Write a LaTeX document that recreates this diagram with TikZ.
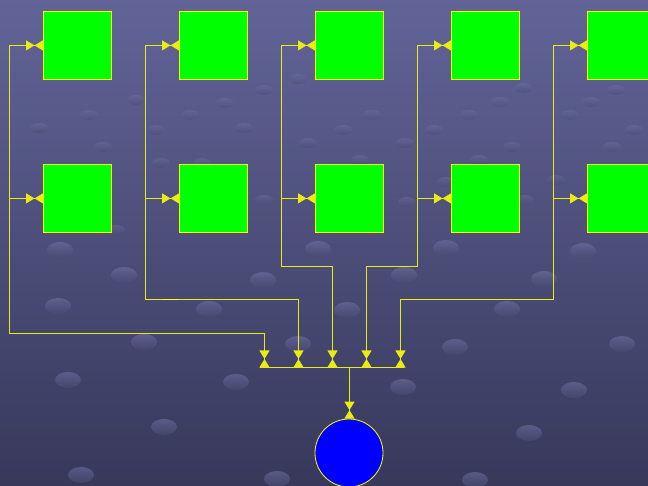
\documentclass[tikz,border=0pt]{standalone}
\usetikzlibrary{arrows.meta,calc}
\definecolor{bgA}{RGB}{98,100,152}
\definecolor{bgB}{RGB}{55,56,90}
\definecolor{dotA}{RGB}{110,112,162}
\definecolor{dotB}{RGB}{72,74,112}
\definecolor{wirecol}{RGB}{235,235,20}
\definecolor{tipcol}{RGB}{255,255,0}
\definecolor{boxgreen}{RGB}{0,255,0}
\definecolor{sinkblue}{RGB}{0,0,255}
\pgfkeys{/pgf/arrow keys/tw/.style={length=8.5pt,width=10pt}}
\tikzset{
  wire/.style={draw=wirecol,line width=1.1pt},
  endtip/.style={-{Triangle[tw] Triangle[tw,reversed]}},
  unit/.style={draw=tipcol,line width=0.8pt,fill=boxgreen,minimum width=68pt,minimum height=68pt,inner sep=0pt,anchor=north west},
  sinkstyle/.style={draw=tipcol,line width=0.8pt,fill=sinkblue,circle,minimum size=68pt,inner sep=0pt},
  bigdot/.style={top color=dotA,bottom color=dotB,opacity=0.6},
  smalldot/.style={top color=dotA,bottom color=dotB,opacity=0.45}
}
\begin{document}
\begin{tikzpicture}[x=1pt,y=-1pt]
\useasboundingbox (0,0) rectangle (648,486);
\shade[shading angle=45,top color=bgA,bottom color=bgB] (0,0) rectangle (648,486);
% background dots
\begin{scope}
\foreach \px/\py in {60/250,124/275,58/306,209/309,263/280,318/249,347/310,404/275,446/248,544/279,583/251,507/309,298/344,144/342,455/347,622/344,68/380,236/382,403/387,574/390,164/427,529/433,81/475,277/479,475/480}
  \shade[bigdot] (\px,\py) ellipse (13 and 8);
\foreach \px/\py in {39/128,89/115,136/100,103/147,156/130,190/115,225/103,244/128,264/90,298/79,343/130,372/115,405/143,434/130,469/115,500/102,523/88,512/147,570/115,612/147,634/130,591/102,616/90,308/143,202/163,161/163,360/160,479/160,556/180,407/202,525/200,264/200,116/230,446/182}
  \shade[smalldot] (\px,\py) ellipse (9 and 5);
\end{scope}
% units
\node[unit] (s1t) at (43,11) {};
\node[unit] (s2t) at (179,11) {};
\node[unit] (s3t) at (315,11) {};
\node[unit] (s4t) at (451,11) {};
\node[unit] (s5t) at (587,11) {};
\node[unit] (s1b) at (43,164) {};
\node[unit] (s2b) at (179,164) {};
\node[unit] (s3b) at (315,164) {};
\node[unit] (s4b) at (451,164) {};
\node[unit] (s5b) at (587,164) {};
\node[sinkstyle] (sink) at (349,453) {};
% corners and bus points
\coordinate (k1) at (9.5,333.5);
\coordinate (k2) at (145.5,299.5);
\coordinate (k3) at (281.5,266.5);
\coordinate (k4) at (417.5,266.5);
\coordinate (k5) at (553.5,299.5);
\coordinate (d1) at (264.5,367.5);
\coordinate (d2) at (298.5,367.5);
\coordinate (d3) at (332.5,367.5);
\coordinate (d4) at (366.5,367.5);
\coordinate (d5) at (400.5,367.5);
\coordinate (busL) at (260,367.5);
\coordinate (busR) at (404,367.5);
\coordinate (busC) at (349.5,367.5);
% bus
\draw[wire] (busL) -- (busR);
\draw[wire] (busC) -- ($(busC |- sink.north)+(0,-17)$);
\draw[wire,endtip] ($(busC |- sink.north)+(0,-17)$) -- (busC |- sink.north);
% column connectors
\foreach \i in {1,...,5}{
  \draw[wire] (d\i) |- (k\i) |- (s\i t.west);
  \draw[wire,endtip] ($(d\i)+(0,-17)$) -- (d\i);
  \draw[wire,endtip] ($(s\i t.west)+(-17,0)$) -- (s\i t.west);
  \draw[wire,endtip] (s\i b.west -| k\i) -- (s\i b.west);
}
% small highlight on second rail
\draw[draw=tipcol,line width=1.6pt] (162,299.5) -- (179,299.5);
\end{tikzpicture}
\end{document}
